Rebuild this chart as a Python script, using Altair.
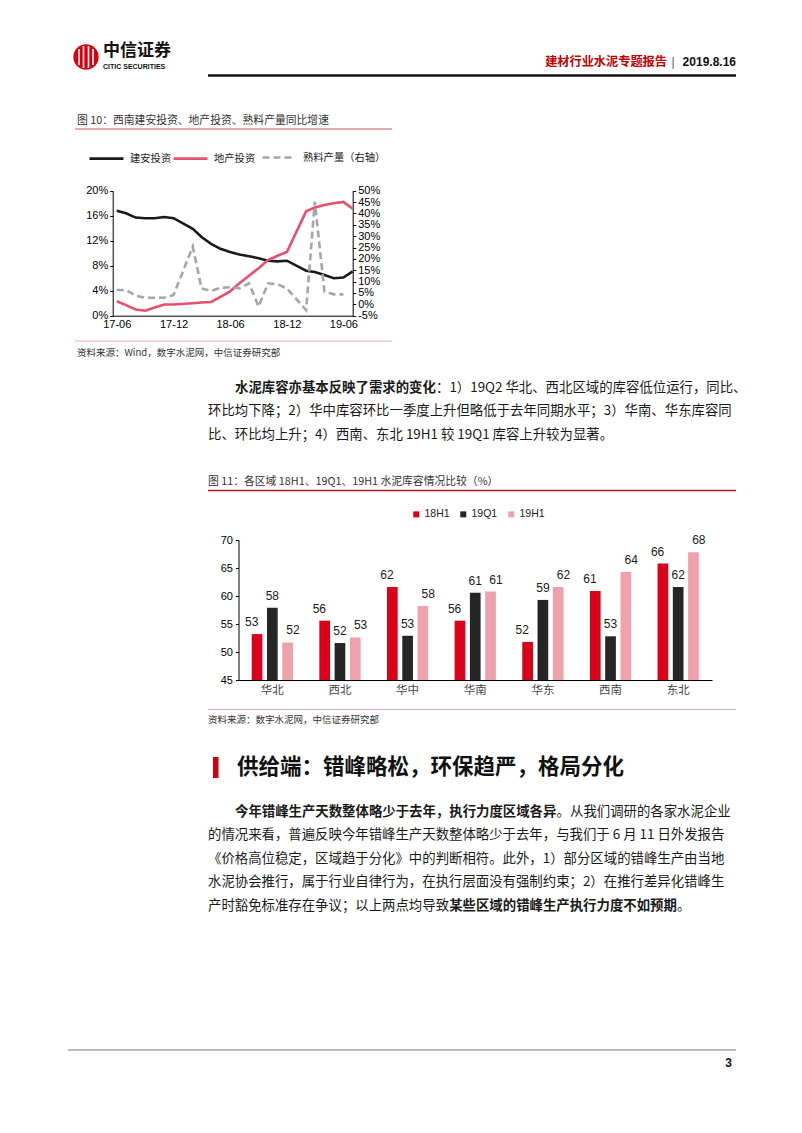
import altair as alt
import pandas as pd

FONT_CJK = "Noto Sans CJK SC"
FONT_LAT = "Liberation Sans"
PAGE_W, PAGE_H = 802, 1133

# ---------------- header / footer texts ----------------
brand_cn = "中信证券"
brand_en = "CITIC SECURITIES"
report_name = "建材行业水泥专题报告"
report_sep = "|"
report_date = "2019.8.16"
page_no = "3"

# ---------------- figure 10 data ----------------
fig10_title = "图 10：西南建安投资、地产投资、熟料产量同比增速"
fig10_source = "资料来源：Wind，数字水泥网，中信证券研究部"
series10 = ["建安投资", "地产投资", "熟料产量（右轴）"]
months = ["17-06", "17-07", "17-08", "17-09", "17-10", "17-11", "17-12",
          "18-02", "18-03", "18-04", "18-05", "18-06", "18-07", "18-08",
          "18-09", "18-10", "18-11", "18-12",
          "19-02", "19-03", "19-04", "19-05", "19-06", "19-07"]
jianan = [16.8, 16.4, 15.7, 15.6, 15.6, 15.8, 15.6,
          13.9, 12.6, 11.5, 10.7, 10.2, 9.8, 9.5, 9.2, 8.8, 8.7, 8.8,
          7.2, 7.0, 6.5, 6.0, 6.1, 7.1]
dichan = [2.3, 1.7, 1.0, 0.8, 1.3, 1.8, 1.8,
          2.0, 2.1, 2.2, 3.0, 3.9, 5.2, 6.4, 7.6, 8.9, 9.6, 10.2,
          16.7, 17.3, 17.7, 18.0, 18.2, 17.1]
shuliao = [6.3, 6.3, 3.8, 2.9, 2.9, 2.9, 4.1,
           25.4, 7.0, 5.9, 7.3, 7.5, 7.0, 9.2, -1.0, 9.2, 8.8, 7.0,
           -2.5, 45.2, 5.6, 4.4, 4.4]
left_ticks = [0, 4, 8, 12, 16, 20]
right_ticks = [-5, 0, 5, 10, 15, 20, 25, 30, 35, 40, 45, 50]
x_tick_labels = ["17-06", "17-12", "18-06", "18-12", "19-06"]

# ---------------- paragraph 1 ----------------
p1_bold = "水泥库容亦基本反映了需求的变化"
p1_l1 = "：1）19Q2 华北、西北区域的库容低位运行，同比、"
p1_l2 = "环比均下降；2）华中库容环比一季度上升但略低于去年同期水平；3）华南、华东库容同"
p1_l3 = "比、环比均上升；4）西南、东北 19H1 较 19Q1 库容上升较为显著。"

# ---------------- figure 11 data ----------------
fig11_title = "图 11：各区域 18H1、19Q1、19H1 水泥库容情况比较（%）"
fig11_source = "资料来源：数字水泥网，中信证券研究部"
regions = ["华北", "西北", "华中", "华南", "华东", "西南", "东北"]
periods = ["18H1", "19Q1", "19H1"]
v18h1 = [53.2, 55.6, 61.6, 55.6, 51.8, 60.9, 65.8]
v19q1 = [57.9, 51.6, 52.9, 60.6, 59.3, 52.8, 61.6]
v19h1 = [51.7, 52.6, 58.2, 60.8, 61.6, 64.3, 67.8]
bar_ticks = [45, 50, 55, 60, 65, 70]

# ---------------- section + paragraph 2 ----------------
section_title = "供给端：错峰略松，环保趋严，格局分化"
p2_bold1 = "今年错峰生产天数整体略少于去年，执行力度区域各异"
p2_l1 = "。从我们调研的各家水泥企业"
p2_l2 = "的情况来看，普遍反映今年错峰生产天数整体略少于去年，与我们于 6 月 11 日外发报告"
p2_l3 = "《价格高位稳定，区域趋于分化》中的判断相符。此外，1）部分区域的错峰生产由当地"
p2_l4 = "水泥协会推行，属于行业自律行为，在执行层面没有强制约束；2）在推行差异化错峰生"
p2_l5a = "产时豁免标准存在争议；以上两点均导致"
p2_l5b = "某些区域的错峰生产执行力度不如预期"
p2_l5c = "。"


# ---------------- helpers ----------------
def txt(s, x, y, size=13.4, weight="normal", color="#1a1a1a", align="left",
        font=FONT_CJK, baseline="middle"):
    return alt.Chart(pd.DataFrame({"t": [s]})).mark_text(
        align=align, baseline=baseline, font=font, fontSize=size,
        fontWeight=weight, color=color
    ).encode(x=alt.value(x), y=alt.value(y), text="t:N")


def rule(x1, x2, y1, y2, color, width):
    return alt.Chart(pd.DataFrame({"k": [0]})).mark_rule(
        color=color, strokeWidth=width
    ).encode(x=alt.value(x1), x2=alt.value(x2), y=alt.value(y1), y2=alt.value(y2))


def rect(x1, x2, y1, y2, color):
    return alt.Chart(pd.DataFrame({"k": [0]})).mark_rect(color=color).encode(
        x=alt.value(x1), x2=alt.value(x2), y=alt.value(y1), y2=alt.value(y2))


def to_date(m):
    yy, mm = m.split("-")
    return f"20{yy}-{mm}-01T00:00:00"


def dt_of(m):
    yy, mm = m.split("-")
    return alt.DateTime(year=2000 + int(yy), month=int(mm), date=1)


layers = []

# ---------------- header ----------------
layers.append(alt.Chart(pd.DataFrame({"k": [0]})).mark_circle(
    size=640, color="#D7000F", opacity=1).encode(x=alt.value(86), y=alt.value(57)))
for lx, ly1, ly2 in [(79, 49, 65), (83.5, 46, 68), (88.5, 46, 68), (93, 49, 65)]:
    layers.append(rule(lx, lx, ly1, ly2, "white", 1.6))
layers.append(txt(brand_cn, 103, 51, size=17, weight="bold", color="#111"))
layers.append(txt(brand_en, 103, 66.5, size=7, weight="bold", color="#111", font=FONT_LAT))
layers.append(txt(report_name, 667, 62, size=12.2, weight="bold", color="#C00000", align="right"))
layers.append(txt(report_sep, 673, 62, size=12, color="#555", align="center", font=FONT_LAT))
layers.append(txt(report_date, 736, 62, size=12, weight="bold", color="#111", align="right", font=FONT_LAT))
layers.append(rule(208, 736, 75.5, 75.5, "#111", 2.5))

# ---------------- figure 10 ----------------
layers.append(txt(fig10_title, 77, 121, size=10.8, color="#333"))
layers.append(rule(75, 392, 129, 129, "#D9546B", 1))
layers.append(rule(75, 392, 341, 341, "#EBA9B3", 1))
layers.append(txt(fig10_source, 77, 353, size=9.5, color="#333"))

df_ab = pd.DataFrame({
    "date": [to_date(m) for m in months] * 2,
    "value": jianan + dichan,
    "series": [series10[0]] * len(months) + [series10[1]] * len(months),
})
df_c = pd.DataFrame({
    "date": [to_date(m) for m in months[:len(shuliao)]],
    "value": shuliao,
    "series": [series10[2]] * len(shuliao),
})

x10 = alt.Scale(domain=[alt.DateTime(year=2017, month=5, date=19),
                        alt.DateTime(year=2019, month=7, date=1)],
                range=[112.7, 352.7])
x_tick_vals = [dt_of(m) for m in x_tick_labels]

lines_ab = alt.Chart(df_ab).mark_line(strokeWidth=2.6).encode(
    x=alt.X("date:T", scale=x10,
            axis=alt.Axis(orient="bottom", offset=-(PAGE_H - 315.7), values=x_tick_vals,
                          format="%y-%m", title=None, grid=False, ticks=False,
                          labelFont=FONT_LAT, labelFontSize=11, labelColor="#000",
                          domainColor="#000", domainWidth=1, labelPadding=3)),
    y=alt.Y("value:Q", scale=alt.Scale(domain=[0, 20], range=[315.7, 190.7], nice=False, zero=False),
            axis=alt.Axis(orient="left", offset=-112.7, values=left_ticks, title=None, grid=False,
                          labelExpr="datum.value + '%'", labelFont=FONT_LAT, labelFontSize=11,
                          labelColor="#000", domainColor="#000", tickColor="#000", tickSize=3,
                          labelPadding=2)),
    color=alt.Color("series:N", sort=series10[:2],
                    scale=alt.Scale(domain=series10[:2], range=["#1a1a1a", "#E5506D"]),
                    legend=alt.Legend(orient="none", legendX=88, legendY=140, direction="horizontal",
                                      title=None, symbolType="stroke", symbolSize=1156,
                                      symbolStrokeWidth=2.6, labelFont=FONT_CJK, labelFontSize=10.3,
                                      labelColor="#222", columnPadding=-8, labelOffset=5)),
    order=alt.Order("date:T"),
)

line_c = alt.Chart(df_c).mark_line(strokeWidth=2.6, strokeDash=[7, 4]).encode(
    x=alt.X("date:T", scale=x10, axis=None),
    y=alt.Y("value:Q", scale=alt.Scale(domain=[-5, 50], range=[315.7, 190.7], nice=False, zero=False),
            axis=alt.Axis(orient="right", offset=-(PAGE_W - 352.7), values=right_ticks, title=None,
                          grid=False, labelExpr="datum.value + '%'", labelFont=FONT_LAT,
                          labelFontSize=11, labelColor="#000", domainColor="#000",
                          tickColor="#000", tickSize=3, labelPadding=2)),
    color=alt.Color("series:N",
                    scale=alt.Scale(domain=[series10[2]], range=["#A6A6A6"]),
                    legend=alt.Legend(orient="none", legendX=261, legendY=140, direction="horizontal",
                                      title=None, symbolType="stroke", symbolSize=1024,
                                      symbolStrokeWidth=2.6, symbolDash=[7, 4],
                                      labelFont=FONT_CJK, labelFontSize=10.3, labelColor="#222",
                                      labelOffset=7)),
)
layers.append(lines_ab)
layers.append(line_c)

# ---------------- paragraph 1 ----------------
FS = 13.4
layers.append(txt(p1_bold, 235, 388, size=FS, weight="bold"))
layers.append(txt(p1_l1, 235 + FS * len(p1_bold), 388, size=FS))
layers.append(txt(p1_l2, 208, 411, size=FS))
layers.append(txt(p1_l3, 208, 434.5, size=FS))

# ---------------- figure 11 ----------------
layers.append(txt(fig11_title, 208, 482, size=10.8, color="#333"))
layers.append(rule(208, 736, 490.5, 490.5, "#C8102E", 1.3))
layers.append(rule(208, 736, 709.5, 709.5, "#EBA9B3", 1))
layers.append(txt(fig11_source, 208, 720, size=9.5, color="#333"))

bar_df = pd.DataFrame({
    "region": regions * 3,
    "period": [p for p in periods for _ in regions],
    "value": v18h1 + v19q1 + v19h1,
})


def xs():
    return alt.Scale(domain=regions, range=[238.5, 712], paddingInner=0.39, paddingOuter=0.195)


def xo():
    return alt.Scale(domain=periods, paddingInner=0.3, paddingOuter=0)


def ys():
    return alt.Scale(domain=[45, 70], range=[680, 540], nice=False, zero=False)


bars = alt.Chart(bar_df).mark_bar().encode(
    x=alt.X("region:N", scale=xs(), sort=regions,
            axis=alt.Axis(orient="bottom", offset=-(PAGE_H - 680), title=None, labelAngle=0,
                          ticks=False, labelFont=FONT_CJK, labelFontSize=11.5, labelColor="#444",
                          domainColor="#000", labelPadding=4)),
    xOffset=alt.XOffset("period:N", scale=xo(), sort=periods),
    y=alt.Y("value:Q", scale=ys(),
            axis=alt.Axis(orient="left", offset=-238.5, values=bar_ticks, title=None, grid=False,
                          labelFont=FONT_LAT, labelFontSize=11, labelColor="#000",
                          domainColor="#000", tickColor="#000", tickSize=3, labelPadding=3)),
    y2=alt.datum(45),
    color=alt.Color("period:N", sort=periods,
                    scale=alt.Scale(domain=periods, range=["#DA0019", "#262626", "#F0A2AC"]),
                    legend=alt.Legend(orient="none", legendX=411, legendY=509, direction="horizontal",
                                      title=None, symbolType="square", symbolSize=36,
                                      symbolStrokeWidth=0, labelFont=FONT_LAT, labelFontSize=10.5,
                                      labelColor="#222", columnPadding=8, labelOffset=3)),
)
bar_labels = alt.Chart(bar_df).mark_text(
    dy=-12, font=FONT_LAT, fontSize=12, color="#1a1a1a", baseline="middle"
).encode(
    x=alt.X("region:N", scale=xs(), sort=regions, axis=None),
    xOffset=alt.XOffset("period:N", scale=xo(), sort=periods),
    y=alt.Y("value:Q", scale=ys(), axis=None),
    text=alt.Text("value:Q", format=".0f"),
)
layers.append(bars)
layers.append(bar_labels)

# ---------------- section + paragraph 2 ----------------
layers.append(rect(213, 218.5, 757, 778, "#C8000F"))
layers.append(txt(section_title, 237, 767.5, size=21.5, weight="bold", color="#111"))

layers.append(txt(p2_bold1, 235, 811.5, size=FS, weight="bold"))
layers.append(txt(p2_l1, 235 + FS * len(p2_bold1), 811.5, size=FS))
layers.append(txt(p2_l2, 208, 835, size=FS))
layers.append(txt(p2_l3, 208, 858.5, size=FS))
layers.append(txt(p2_l4, 208, 882, size=FS))
layers.append(txt(p2_l5a, 208, 905.5, size=FS))
layers.append(txt(p2_l5b, 208 + FS * len(p2_l5a), 905.5, size=FS, weight="bold"))
layers.append(txt(p2_l5c, 208 + FS * (len(p2_l5a) + len(p2_l5b)), 905.5, size=FS))

# ---------------- footer ----------------
layers.append(rule(68, 736, 1050, 1050, "#A6A6A6", 1.5))
layers.append(txt(page_no, 732, 1063, size=12, weight="bold", color="#111", align="right", font=FONT_LAT))

chart = alt.layer(*layers).resolve_scale(
    x="independent", y="independent", color="independent", xOffset="independent"
).properties(
    width=PAGE_W, height=PAGE_H, padding=0,
    autosize=alt.AutoSizeParams(type="none"), background="white",
).configure_view(stroke=None)

chart.save("out.html", embed_options={"renderer": "svg", "actions": False})
